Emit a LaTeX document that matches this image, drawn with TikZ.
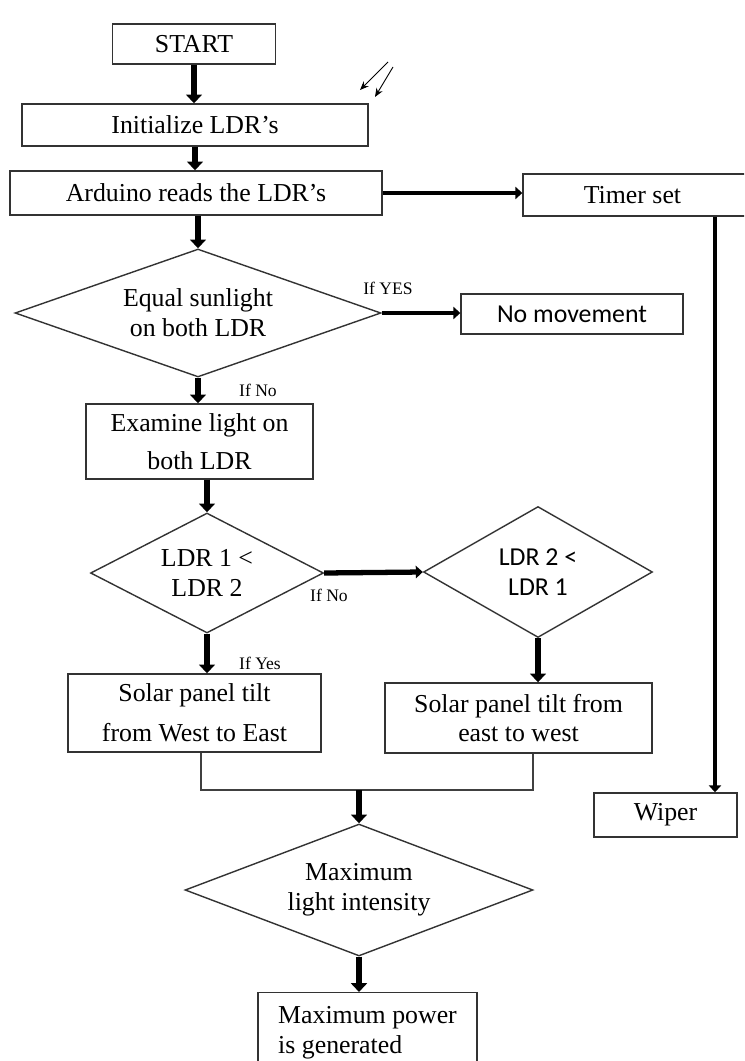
\documentclass[tikz,border=0pt]{standalone}
\usepackage{fontspec}
\setmainfont{Liberation Serif}
\newfontfamily\calibri{Carlito}
\usetikzlibrary{arrows.meta,shapes.geometric}

\begin{document}
\begin{tikzpicture}[x=0.02cm,y=-0.02cm,
  box/.style={draw=black!80,line width=0.8pt,inner sep=0,align=center,font=\fontsize{14.7}{21.5}\selectfont},
  decision/.style={draw=black!80,line width=0.8pt,shape=diamond,aspect=2.5,inner sep=0,align=center,font=\fontsize{14.7}{17}\selectfont},
  flow/.style={line width=3.8pt,-{Triangle[length=5pt,width=9pt]}},
  sideflow/.style={line width=2.6pt,-{Triangle[length=4pt,width=7pt]}},
  link/.style={draw=black!75,line width=0.8pt},
  sunray/.style={line width=0.5pt,-{Stealth[length=5pt,width=4pt]}},
  tag/.style={font=\fontsize{10}{12}\selectfont}]
  \useasboundingbox (0,0) rectangle (744,1061);
  \clip (0,0) rectangle (744,1061);
  % Start and set-up
  \node[box,minimum width=3.26cm,minimum height=0.8cm] (start) at (194,44) {START};
  \node[box,minimum width=6.92cm,minimum height=0.84cm] (init) at (195,125) {Initialize LDR’s};
  \node[box,minimum width=7.44cm,minimum height=0.88cm] (ardu) at (196,193) {Arduino reads the LDR’s};
  \node[box,minimum width=4.54cm,minimum height=0.84cm] (timer) at (636.5,195) {\hspace*{-0.16cm}Timer set};
  % Sun rays
  \draw[sunray] (388,62) -- (360,90);
  \draw[sunray] (393,67) -- (375,97);
  % First decision
  \node[decision,minimum width=7.32cm,minimum height=2.56cm] (d1) at (198,313) {Equal sunlight\\on both LDR};
  \node[box,minimum width=4.44cm,minimum height=0.8cm,font=\calibri\fontsize{14.7}{17}\selectfont] (nomove) at (572,314) {No movement};
  \node[box,minimum width=4.54cm,minimum height=1.5cm] (exam) at (199.5,441.5) {Examine light on\\both LDR};
  % Comparing the LDRs
  \node[decision,minimum width=4.66cm,minimum height=2.4cm] (d2) at (207,573) {LDR 1 <\\LDR 2};
  \node[decision,minimum width=4.58cm,minimum height=2.62cm,font=\calibri\fontsize{14.7}{17.5}\selectfont] (d3) at (538,572) {LDR 2 <\\LDR 1};
  \node[box,minimum width=5.06cm,minimum height=1.56cm,font=\fontsize{14.7}{22.7}\selectfont] (sol1) at (194.5,713) {Solar panel tilt\\from West to East};
  \node[box,minimum width=5.34cm,minimum height=1.4cm,font=\fontsize{14.7}{16}\selectfont] (sol2) at (518.5,718) {Solar panel tilt from\\east to west};
  % Wiper branch
  \node[box,minimum width=2.86cm,minimum height=0.88cm] (wiper) at (665.5,815) {Wiper};
  \coordinate (wipe) at (715,815);
  % End
  \coordinate (join) at (359,790);
  \node[decision,minimum width=6.96cm,minimum height=2.64cm] (d4) at (359,890) {Maximum\\light intensity};
  \node[box,anchor=north,minimum width=4.38cm,minimum height=1.6cm,align=left,font=\fontsize{14.7}{17}\selectfont] (power) at (367.5,992) {Maximum power\\is generated};
  % Labels
  \node[tag] (yes1) at (388,288) {If YES};
  \node[tag] (no1) at (258,390) {If No};
  \node[tag] (no2) at (329,595) {If No};
  \node[tag] (yes2) at (260,663) {If Yes};
  % Arrows
  \draw[flow] (start.south) -- (start.south |- init.north);
  \draw[flow] (init.south) -- (init.south |- ardu.north);
  \draw[flow] (d1.north |- ardu.south) -- (d1.north);
  \draw[sideflow] (ardu.east) -- (ardu.east -| timer.west);
  \draw[line width=2.8pt,-{Triangle[length=4pt,width=7pt]}] (timer.south -| wipe) -- (wiper.north -| wipe);
  \draw[sideflow] (d1.east) -- (d1.east -| nomove.west);
  \draw[flow] (d1.south) -- (d1.south |- exam.north);
  \draw[flow] (d2.north |- exam.south) -- (d2.north);
  \draw[sideflow,line width=3pt] (d2.east) -- (d3.west);
  \draw[flow] (d2.south) -- (d2.south |- sol1.north);
  \draw[flow] (d3.south) -- (d3.south |- sol2.north);
  \draw[link] ([xshift=0.13cm]sol1.south) |- (join) -| ([xshift=0.29cm]sol2.south);
  \draw[flow] (join) -- (d4.north);
  \draw[flow] (d4.south) -- (d4.south |- power.north);
\end{tikzpicture}
\end{document}
